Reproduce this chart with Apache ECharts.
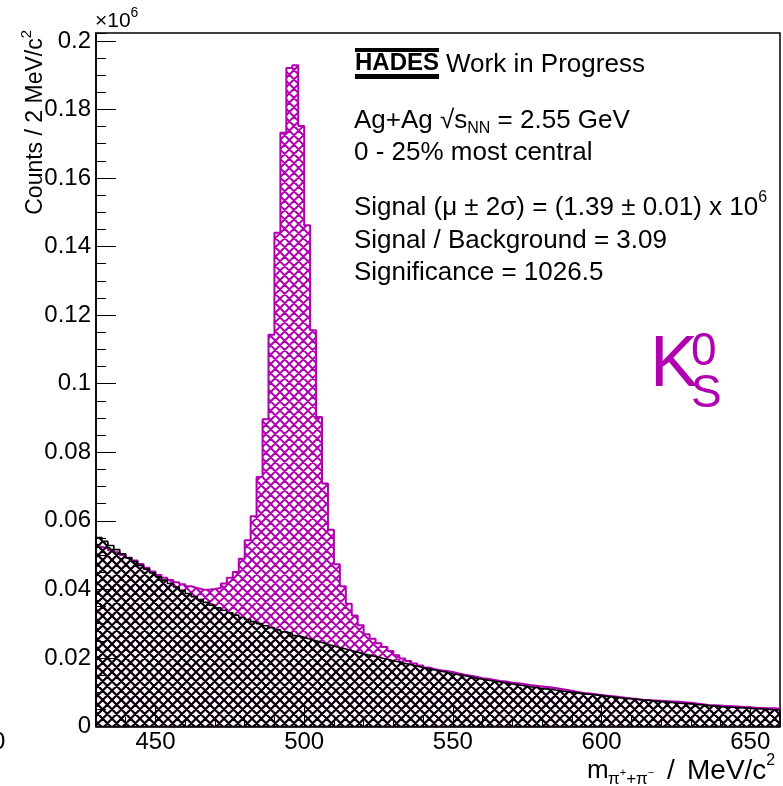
<!DOCTYPE html>
<html><head><meta charset="utf-8">
<script src="https://cdn.jsdelivr.net/npm/echarts@6/dist/echarts.min.js"></script>
<style>html,body{margin:0;padding:0;background:#fff}#c{width:783px;height:786px}</style>
</head><body><div id="c"></div>
<script>
// ---- data (counts in units of 10^6, 2 MeV/c^2 bins starting at 430) ----
const BIN_LO = 430, BIN_W = 2;
const totalCounts = [
 0.0524,0.0520,0.0514,0.0508,0.0500,0.0492,0.0484,0.0474,0.0463,0.0452,
 0.0442,0.0434,0.0427,0.0421,0.0415,0.0409,0.0404,0.0400,0.0399,0.0401,
 0.0404,0.0417,0.0434,0.0451,0.0489,0.0543,0.0613,0.0728,0.0896,0.1143,
 0.1440,0.1732,0.1921,0.1929,0.1752,0.1462,0.1156,0.0903,0.0709,0.0574,
 0.0473,0.0409,0.0358,0.0324,0.0295,0.0269,0.0256,0.0243,0.0232,0.0220,
 0.0208,0.0198,0.0191,0.0184,0.0178,0.0172,0.0167,0.0164,0.0162,0.0159,
 0.0155,0.0151,0.0148,0.0145,0.0141,0.0139,0.0136,0.0133,0.0131,0.0128,
 0.0126,0.0124,0.0121,0.0119,0.0117,0.0115,0.0113,0.0110,0.0107,0.0104,
 0.0101,0.0098,0.0096,0.0094,0.0092,0.0090,0.0088,0.0086,0.0084,0.0082,
 0.0080,0.0078,0.0077,0.0076,0.0075,0.0074,0.0073,0.0072,0.0071,0.0069,
 0.0067,0.0065,0.0063,0.0062,0.0061,0.0060,0.0059,0.0058,0.0057,0.0056,
 0.0055,0.0054,0.0053,0.0053,0.0052
];
const bkgCounts = [
 0.0551,0.0540,0.0528,0.0516,0.0504,0.0492,0.0481,0.0470,0.0459,0.0448,
 0.0437,0.0427,0.0417,0.0407,0.0397,0.0388,0.0379,0.0370,0.0362,0.0354,
 0.0346,0.0339,0.0332,0.0325,0.0318,0.0312,0.0306,0.0300,0.0294,0.0288,
 0.0282,0.0276,0.0271,0.0265,0.0260,0.0255,0.0250,0.0245,0.0240,0.0235,
 0.0230,0.0226,0.0221,0.0217,0.0212,0.0208,0.0204,0.0200,0.0196,0.0192,
 0.0188,0.0184,0.0180,0.0176,0.0172,0.0168,0.0165,0.0161,0.0158,0.0154,
 0.0151,0.0148,0.0145,0.0141,0.0138,0.0135,0.0132,0.0130,0.0127,0.0124,
 0.0121,0.0119,0.0116,0.0114,0.0111,0.0109,0.0107,0.0104,0.0102,0.0100,
 0.0098,0.0096,0.0094,0.0092,0.0090,0.0088,0.0086,0.0084,0.0082,0.0081,
 0.0079,0.0077,0.0076,0.0074,0.0073,0.0071,0.0070,0.0068,0.0067,0.0066,
 0.0064,0.0063,0.0061,0.0060,0.0058,0.0057,0.0056,0.0055,0.0054,0.0053,
 0.0052,0.0051,0.0050,0.0049,0.0048
];
const xMajorTicks = [450, 500, 550, 600, 650];
const yMajorTicks = [0, 0.02, 0.04, 0.06, 0.08, 0.1, 0.12, 0.14, 0.16, 0.18, 0.2];
const X_MIN = 430, X_MAX = 660, Y_MIN = 0, Y_MAX = 0.2023;

const MAG = '#b000b0';
const FONT = '"Liberation Sans", Arial, Helvetica, sans-serif';

function histPoints(vals){
  const pts = [[BIN_LO, 0]];
  vals.forEach((v, i) => { const x0 = BIN_LO + i*BIN_W; pts.push([x0, v], [x0 + BIN_W, v]); });
  pts.push([BIN_LO + vals.length*BIN_W, 0]);
  return pts;
}
function hatch(color){
  const T = 28, c = document.createElement('canvas');
  c.width = c.height = T;
  const g = c.getContext('2d');
  g.strokeStyle = color; g.lineWidth = 2; g.lineCap = 'square';
  const p = T/3;
  g.beginPath();
  for (let k = -7; k <= 7; k++) {
    const o = k*p;
    g.moveTo(o - 6, -6); g.lineTo(o + T + 6, T + 6);
    g.moveTo(o - 6, T + 6); g.lineTo(o + T + 6, -6);
  }
  g.stroke();
  return c;
}
const mctx = document.createElement('canvas').getContext('2d');
function tw(t, size, weight){ mctx.font = (weight||'normal') + ' ' + size + 'px ' + FONT; return mctx.measureText(t).width; }
function run(x, y, segs, opt){
  opt = opt || {};
  const color = opt.color || '#000';
  let W = 0; segs.forEach(s => { s.w = tw(s.t, s.s, s.fw) + (s.gap || 0); W += s.w; });
  let cx = opt.align === 'right' ? -W : 0;
  const children = segs.map(s => {
    const el = {type:'text', x: cx, y: s.dy || 0, style:{text: s.t, fontSize: s.s, fontFamily: FONT,
      fontWeight: s.fw || 'normal', fill: color, align:'left', verticalAlign:'middle'}};
    cx += s.w; return el;
  });
  return {type:'group', x, y, rotation: opt.rotation || 0, children, z: 100};
}

const graphics = [
  // HADES logo
  {type:'rect', shape:{x:355, y:48, width:84, height:4}, style:{fill:'#000'}, z:100},
  {type:'rect', shape:{x:355, y:74, width:84, height:5}, style:{fill:'#000'}, z:100},
  run(355, 63, [{t:'HADES', s:24, fw:'bold'}]),
  run(446, 65, [{t:'Work in Progress', s:26}]),
  run(354, 121, [{t:'Ag+Ag ', s:26}, {t:'√', s:26}, {t:'s', s:26}, {t:'NN', s:16, dy:8}, {t:' = 2.55 GeV', s:26}]),
  run(354, 153, [{t:'0 - 25% most central', s:26}]),
  run(354, 208, [{t:'Signal (μ ± 2σ) = (1.39 ± 0.01) x 10', s:26}, {t:'6', s:16, dy:-10}]),
  run(354, 241, [{t:'Signal / Background = 3.09', s:26}]),
  run(354, 273, [{t:'Significance = 1026.5', s:26}]),
  // K0S label
  run(650, 366, [{t:'K', s:72}], {color: MAG}),
  run(691, 352, [{t:'0', s:46}], {color: MAG}),
  run(691, 394, [{t:'S', s:46}], {color: MAG}),
  // exponent
  run(95, 21, [{t:'×10', s:21}, {t:'6', s:14, dy:-8}]),
  // y title
  run(36, 30, [{t:'Counts / 2 MeV/c', s:23}, {t:'2', s:15, dy:-9}], {align:'right', rotation: Math.PI/2}),
  // x title pieces
  run(587, 771, [{t:'m', s:26}]),
  run(608, 771, [{t:'π', s:17, dy:8}, {t:'+', s:11, dy:2}, {t:'+π', s:17, dy:8}, {t:'−', s:11, dy:2}]),
  run(667, 771, [{t:'/', s:28}]),
  run(687, 771, [{t:'MeV/c', s:28}, {t:'2', s:16, dy:-10}]),
  // clipped stray label at left edge
  run(-8, 742, [{t:'0', s:24}])
];

const chart = echarts.init(document.getElementById('c'), null, {renderer:'canvas'});
const axisFont = {fontSize:24, color:'#000', fontFamily: FONT};
chart.setOption({
  animation:false,
  backgroundColor:'#fff',
  grid:{left:96, right:1.5, top:33, bottom:59.5, show:true, borderColor:'#000', borderWidth:1.5, backgroundColor:'transparent'},
  xAxis:[
    {type:'value', min:X_MIN, max:X_MAX, interval:10, z:10,
     axisLine:{show:true, onZero:false, lineStyle:{color:'#000', width:1.5}},
     axisTick:{show:true, inside:true, length:10, lineStyle:{color:'#000', width:1}},
     axisLabel:Object.assign({margin:4, formatter:v => (Math.round(v) % 50 === 0 ? String(Math.round(v)) : '')}, axisFont),
     splitLine:{show:false}},
    {type:'value', min:X_MIN, max:X_MAX, position:'bottom', z:10,
     axisLine:{show:false},
     axisTick:{show:true, inside:true, length:20, customValues:xMajorTicks, lineStyle:{color:'#000', width:1}},
     axisLabel:{show:false}, splitLine:{show:false}}
  ],
  yAxis:[
    {type:'value', min:Y_MIN, max:Y_MAX, interval:0.005, z:10,
     axisLine:{show:true, onZero:false, lineStyle:{color:'#000', width:1.5}},
     axisTick:{show:true, inside:true, length:10, lineStyle:{color:'#000', width:1}},
     axisLabel:Object.assign({margin:5, formatter:v => { const k = v/0.02; if (Math.abs(k - Math.round(k)) > 1e-6) return ''; return String(parseFloat(v.toFixed(3))); }}, axisFont),
     splitLine:{show:false}},
    {type:'value', min:Y_MIN, max:Y_MAX, position:'left', z:10,
     axisLine:{show:false},
     axisTick:{show:true, inside:true, length:20, customValues:yMajorTicks, lineStyle:{color:'#000', width:1}},
     axisLabel:{show:false}, splitLine:{show:false}}
  ],
  series:[
    {type:'line', name:'total', xAxisIndex:0, yAxisIndex:0, data:histPoints(totalCounts), showSymbol:false, symbol:'none',
     lineStyle:{color:MAG, width:2}, areaStyle:{color:{image:hatch(MAG), repeat:'repeat'}, opacity:1}, z:2, clip:true},
    {type:'line', name:'background', xAxisIndex:0, yAxisIndex:0, data:histPoints(bkgCounts), showSymbol:false, symbol:'none',
     lineStyle:{color:'#000', width:1.6}, areaStyle:{color:{image:hatch('#000'), repeat:'repeat'}, opacity:1}, z:3, clip:true}
  ],
  graphic: graphics
});
</script></body></html>
